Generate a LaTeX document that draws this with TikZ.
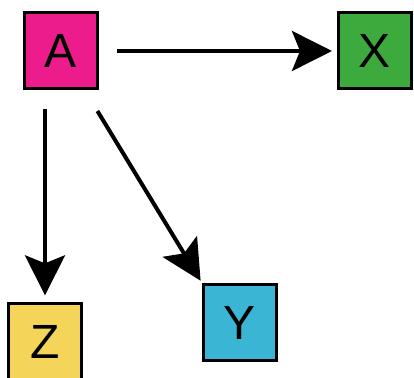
\documentclass[tikz,border=0pt]{standalone}
\usepackage{fontspec}
\setmainfont{Liberation Sans}
\usetikzlibrary{arrows.meta}
\definecolor{cA}{RGB}{236,28,140}
\definecolor{cX}{RGB}{61,170,61}
\definecolor{cY}{RGB}{58,182,212}
\definecolor{cZ}{RGB}{245,212,90}
\begin{document}
\begin{tikzpicture}[x=0.75pt,y=-0.75pt,
  letterbox/.style={draw=black,line width=2.25pt,minimum width=54.75pt,minimum height=57pt,inner sep=0pt,
    font=\fontsize{36}{36}\selectfont},
  conn/.style={line width=3pt,-{Stealth[length=30pt,width=30pt,inset=6pt]}}]
\useasboundingbox (0,0) rectangle (414,378);
\node[letterbox,fill=cA] (A) at (61,51) {A};
\node[letterbox,fill=cX] (X) at (375,51) {X};
\node[letterbox,fill=cY] (Y) at (240,322.5) {Y};
\node[letterbox,fill=cZ] (Z) at (45,341.5) {Z};
\draw[conn,shorten <=13.5pt,shorten >=3.75pt] (A.east) -- (X.west);
\draw[conn,shorten <=14pt,shorten >=5pt] (Z.north |- A.south) -- (Z.north);
\draw[conn,shorten <=18pt,shorten >=2pt] (A) -- (Y.north west);
\end{tikzpicture}
\end{document}
